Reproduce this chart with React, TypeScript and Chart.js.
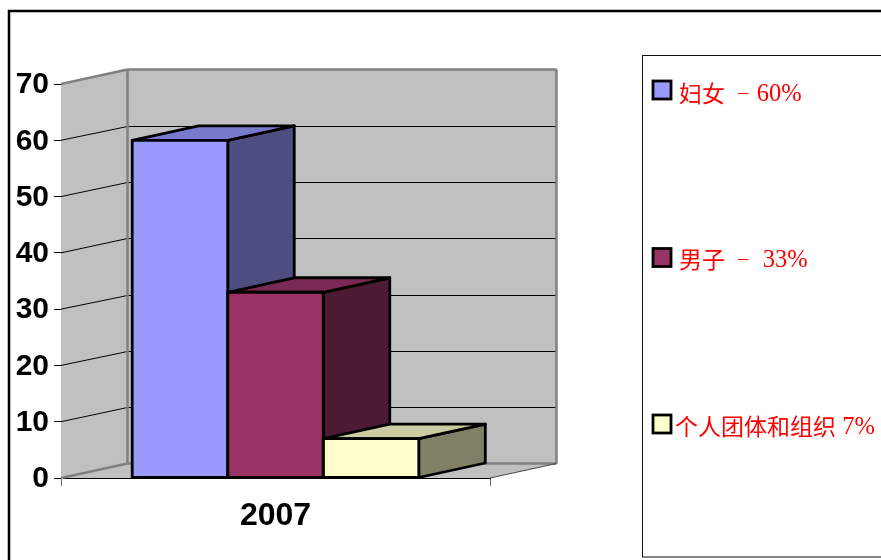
import React, { useEffect, useRef } from "react";
import { Chart, registerables } from "chart.js";

Chart.register(...registerables);

const categories = ["2007"];
const seriesNames = ["妇女 －60%", "男子 － 33%", "个人团体和组织 7%"];
const seriesValues = [60, 33, 7];
const frontColors = ["#9999ff", "#993366", "#ffffcc"];
const topColors = ["#7a7acc", "#7a2952", "#cccca3"];
const sideColors = ["#4d4d80", "#4d1a33", "#808066"];
const yTicks = [0, 10, 20, 30, 40, 50, 60, 70];

const DX = 66.5;
const DY = -14.5;
const WALL = "#c0c0c0";
const EDGE = "#808080";
const legendRows = [
  { textX: 679, midY: 90, textY: 95 },
  { textX: 679, midY: 257.5, textY: 261 },
  { textX: 675, midY: 424, textY: 428 },
];
const CJK_FONT = '"Noto Sans CJK SC", sans-serif';
const LATIN_FONT = '"Liberation Serif", serif';

function poly(ctx: CanvasRenderingContext2D, pts: number[][], fill?: string, stroke?: string, lw = 1) {
  ctx.beginPath();
  pts.forEach((p, i) => (i ? ctx.lineTo(p[0], p[1]) : ctx.moveTo(p[0], p[1])));
  ctx.closePath();
  if (fill) {
    ctx.fillStyle = fill;
    ctx.fill();
  }
  if (stroke) {
    ctx.strokeStyle = stroke;
    ctx.lineWidth = lw;
    ctx.lineJoin = "round";
    ctx.stroke();
  }
}

function line(ctx: CanvasRenderingContext2D, a: number[], b: number[], color: string, lw: number) {
  ctx.beginPath();
  ctx.moveTo(a[0], a[1]);
  ctx.lineTo(b[0], b[1]);
  ctx.strokeStyle = color;
  ctx.lineWidth = lw;
  ctx.stroke();
}

function drawLabel(ctx: CanvasRenderingContext2D, text: string, x0: number, y: number) {
  let x = x0;
  ctx.textBaseline = "middle";
  ctx.textAlign = "left";
  ctx.fillStyle = "#ff0000";
  for (const ch of text) {
    if (ch === "－") {
      ctx.font = `14.5px ${CJK_FONT}`;
      const w = ctx.measureText(ch).width;
      ctx.fillText(ch, x + (24 - w) / 2, y - 2);
      x += 25.5;
    } else if (/[\u4e00-\u9fff]/.test(ch)) {
      ctx.font = `23px ${CJK_FONT}`;
      ctx.fillText(ch, x, y - 2);
      x += 23;
    } else {
      ctx.font = `24.5px ${LATIN_FONT}`;
      ctx.fillText(ch, x, y);
      x += ctx.measureText(ch).width;
    }
  }
}

const scene3d = {
  id: "scene3d",
  beforeDraw(chart: any) {
    const ctx = chart.ctx as CanvasRenderingContext2D;
    ctx.save();
    ctx.strokeStyle = "#000";
    ctx.lineWidth = 2.5;
    ctx.strokeRect(9, 11, 900, 600);
    ctx.restore();
  },
  beforeDatasetsDraw(chart: any) {
    const ctx = chart.ctx as CanvasRenderingContext2D;
    const { left, right } = chart.chartArea;
    const y = chart.scales.y;
    const y0 = y.getPixelForValue(0);
    const yMax = y.getPixelForValue(70);
    ctx.save();
    poly(ctx, [[left, y0], [left + DX, y0 + DY], [right + DX, y0 + DY], [right, y0]], WALL);
    poly(ctx, [[left, y0], [left, yMax], [left + DX, yMax + DY], [left + DX, y0 + DY]], WALL);
    poly(ctx, [[left + DX, y0 + DY], [left + DX, yMax + DY], [right + DX, yMax + DY], [right + DX, y0 + DY]], WALL);
    yTicks.slice(1, -1).forEach((t) => {
      const py = y.getPixelForValue(t);
      const snapped = Math.round(py + DY) + 0.5;
      line(ctx, [left, py], [left + DX, snapped], "#000", 1);
      line(ctx, [left + DX, snapped], [right + DX, snapped], "#000", 1);
    });
    line(ctx, [left, yMax], [left + DX, yMax + DY], EDGE, 2.5);
    line(ctx, [left + DX, yMax + DY], [right + DX, yMax + DY], EDGE, 2.5);
    line(ctx, [left + DX, yMax + DY], [left + DX, y0 + DY], EDGE, 2.5);
    line(ctx, [right + DX, yMax + DY], [right + DX, y0 + DY], EDGE, 2.5);
    line(ctx, [left, y0], [left + DX, y0 + DY], EDGE, 2.5);
    line(ctx, [left + DX, y0 + DY], [right + DX, y0 + DY], EDGE, 2.5);
    line(ctx, [right, y0], [right + DX, y0 + DY], "#444", 1);

    chart.data.datasets.forEach((_: any, i: number) => {
      const el = chart.getDatasetMeta(i).data[0] as any;
      const l = el.x - el.width / 2;
      const r = el.x + el.width / 2;
      const t = el.y;
      const b = el.base;
      poly(ctx, [[r, t], [r + DX, t + DY], [r + DX, b + DY], [r, b]], sideColors[i], "#000", 2.8);
      poly(ctx, [[l, t], [l + DX, t + DY], [r + DX, t + DY], [r, t]], topColors[i], "#000", 2.8);
    });
    ctx.restore();
  },
  afterDatasetsDraw(chart: any) {
    const ctx = chart.ctx as CanvasRenderingContext2D;
    ctx.save();
    chart.data.datasets.forEach((_: any, i: number) => {
      const el = chart.getDatasetMeta(i).data[0] as any;
      ctx.strokeStyle = "#000";
      ctx.lineWidth = 2.8;
      ctx.lineJoin = "round";
      ctx.strokeRect(el.x - el.width / 2, el.y, el.width, el.base - el.y);
    });
    ctx.restore();
  },
  afterDraw(chart: any) {
    const ctx = chart.ctx as CanvasRenderingContext2D;
    ctx.save();
    ctx.strokeStyle = "#111";
    ctx.lineWidth = 1;
    ctx.strokeRect(642.5, 55.5, 400, 501.5);
    chart.data.datasets.forEach((ds: any, i: number) => {
      const row = legendRows[i];
      ctx.fillStyle = frontColors[i];
      ctx.strokeStyle = "#000";
      ctx.lineWidth = 2.8;
      ctx.fillRect(653, row.midY - 9, 18, 18);
      ctx.strokeRect(653, row.midY - 9, 18, 18);
      drawLabel(ctx, ds.label, row.textX, row.textY);
    });
    ctx.restore();
  },
};

export default function App() {
  const ref = useRef<HTMLCanvasElement>(null);
  useEffect(() => {
    const chart = new Chart(ref.current!, {
      type: "bar",
      data: {
        labels: categories,
        datasets: seriesNames.map((label, i) => ({
          label,
          data: [seriesValues[i]],
          backgroundColor: frontColors[i],
          borderWidth: 0,
          barPercentage: 1,
          categoryPercentage: 0.668,
        })),
      },
      options: {
        responsive: false,
        animation: false,
        devicePixelRatio: 1,
        layout: { padding: { left: 0, top: 84, right: 391, bottom: 0 } },
        plugins: { legend: { display: false }, tooltip: { enabled: false }, title: { display: false } },
        scales: {
          x: {
            afterFit(scale: any) {
              scale.height = 82;
            },
            grid: { drawOnChartArea: false, drawTicks: true, tickLength: 8, tickColor: "#666", lineWidth: 1 },
            border: { color: "#000", width: 1 },
            ticks: { color: "#000", font: { family: '"Liberation Sans", Arial, sans-serif', size: 32, weight: "bold" }, padding: 11, maxRotation: 0 },
          },
          y: {
            min: 0,
            max: 70,
            afterFit(scale: any) {
              scale.width = 61;
            },
            grid: { drawOnChartArea: false, drawTicks: true, tickLength: 7, tickColor: "#000", lineWidth: 1 },
            border: { color: "#666", width: 1 },
            ticks: { stepSize: 10, color: "#000", font: { family: '"Liberation Sans", Arial, sans-serif', size: 30, weight: "bold" }, padding: 5, labelOffset: 1 },
          },
        },
      },
      plugins: [scene3d],
    } as any);
    return () => chart.destroy();
  }, []);
  return (
    <div style={{ position: "absolute", left: 0, top: 0, width: 881, height: 560, overflow: "hidden", background: "#fff" }}>
      <canvas ref={ref} width={881} height={560} style={{ display: "block" }} />
    </div>
  );
}
